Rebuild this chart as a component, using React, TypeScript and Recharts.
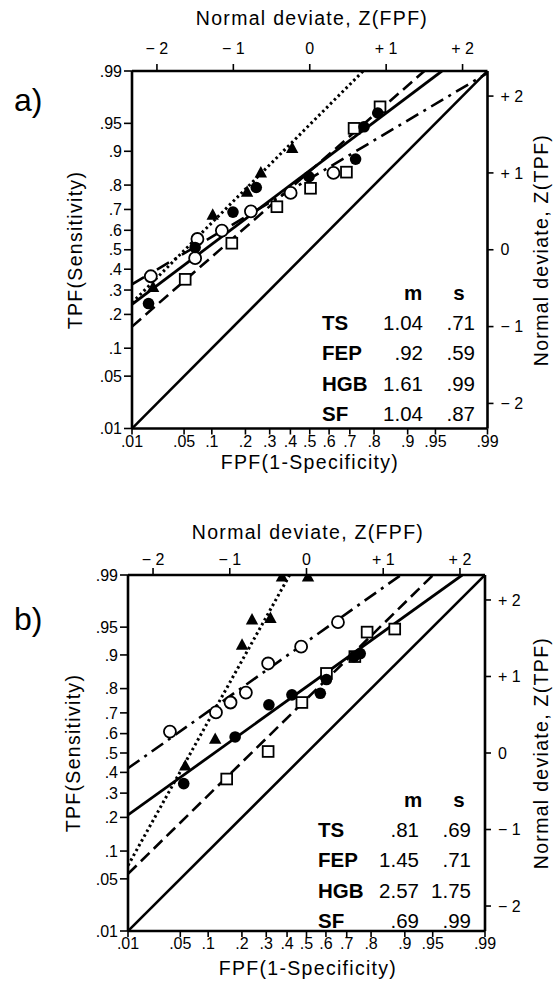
import React from 'react';
import { ComposedChart, XAxis, YAxis, Scatter } from 'recharts';

// ---------- axis ticks ----------
const probTicks = [0.01, 0.05, 0.1, 0.2, 0.3, 0.4, 0.5, 0.6, 0.7, 0.8, 0.9, 0.95, 0.99];
const probLabels = ['.01', '.05', '.1', '.2', '.3', '.4', '.5', '.6', '.7', '.8', '.9', '.95', '.99'];
const zTicks = [-2, -1, 0, 1, 2];
const zLabels = ['\u2212 2', '\u2212 1', '0', '+ 1', '+ 2'];

// ---------- panel a (normal deviate coordinates: [zFPF, zTPF]) ----------
const a_TS: [number, number][] = [[-2.11, -0.70], [-1.50, 0.03], [-1.005, 0.49], [-0.70, 0.81], [-0.01, 0.95], [0.60, 1.18], [0.71, 1.60], [0.89, 1.78]];
const a_FEP: [number, number][] = [[-2.08, -0.345], [-1.47, 0.14], [-1.50, -0.11], [-1.15, 0.25], [-0.77, 0.50], [-0.25, 0.74], [0.31, 1.0]];
const a_HGB: [number, number][] = [[-2.05, -0.49], [-1.27, 0.45], [-0.82, 0.75], [-0.64, 1.0], [-0.23, 1.32]];
const a_SF: [number, number][] = [[-1.63, -0.385], [-1.02, 0.085], [-0.43, 0.56], [0.01, 0.80], [0.48, 1.01], [0.58, 1.58], [0.92, 1.86]];
const a_lineTS: [number, number][] = [[-2.326, -0.71], [1.73, 2.326]];
const a_lineFEP: [number, number][] = [[-2.326, -0.45], [2.326, 2.30]];
const a_lineHGB: [number, number][] = [[-2.326, -0.69], [0.70, 2.326]];
const a_lineSF: [number, number][] = [[-2.326, -1.0], [1.50, 2.326]];
const a_table = { names: ['TS', 'FEP', 'HGB', 'SF'], m: ['1.04', '.92', '1.61', '1.04'], s: ['.71', '.59', '.99', '.87'] };

// ---------- panel b ----------
const b_TS: [number, number][] = [[-1.60, -0.40], [-0.93, 0.21], [-0.49, 0.63], [-0.19, 0.76], [0.18, 0.78], [0.26, 0.96], [0.62, 1.26], [0.70, 1.30]];
const b_FEP: [number, number][] = [[-1.78, 0.28], [-1.18, 0.53], [-0.99, 0.66], [-0.79, 0.79], [-0.50, 1.17], [-0.07, 1.39], [0.41, 1.71]];
const b_HGB: [number, number][] = [[-1.58, -0.17], [-1.19, 0.18], [-0.84, 1.41], [-0.71, 1.74], [-0.47, 1.76], [-0.32, 2.30], [0.02, 2.30]];
const b_SF: [number, number][] = [[-1.04, -0.34], [-0.50, 0.02], [-0.06, 0.66], [0.26, 1.04], [0.63, 1.26], [0.79, 1.58], [1.15, 1.62]];
const b_lineTS: [number, number][] = [[-2.326, -0.81], [2.03, 2.326]];
const b_lineFEP: [number, number][] = [[-2.326, -0.20], [1.23, 2.326]];
const b_lineHGB: [number, number][] = [[-2.326, -1.47], [-0.22, 2.326]];
const b_lineSF: [number, number][] = [[-2.326, -1.58], [1.65, 2.326]];
const b_table = { names: ['TS', 'FEP', 'HGB', 'SF'], m: ['.81', '1.45', '2.57', '.69'], s: ['.69', '.71', '1.75', '.99'] };

const chanceLine: [number, number][] = [[-2.326, -2.326], [2.326, 2.326]];

// inverse standard normal CDF (axis transform)
function probit(p: number): number {
  const a = [-3.969683028665376e1, 2.209460984245205e2, -2.759285104469687e2, 1.38357751867269e2, -3.066479806614716e1, 2.506628277459239];
  const b = [-5.447609879822406e1, 1.615858368580409e2, -1.556989798598866e2, 6.680131188771972e1, -1.328068155288572e1];
  const c = [-7.784894002430293e-3, -3.223964580411365e-1, -2.400758277161838, -2.549732539343734, 4.374664141464968, 2.938163982698783];
  const d = [7.784695709041462e-3, 3.224671290700398e-1, 2.445134137142996, 3.754408661907416];
  const pl = 0.02425;
  let q: number, r: number;
  if (p < pl) {
    q = Math.sqrt(-2 * Math.log(p));
    return (((((c[0] * q + c[1]) * q + c[2]) * q + c[3]) * q + c[4]) * q + c[5]) / ((((d[0] * q + d[1]) * q + d[2]) * q + d[3]) * q + 1);
  }
  if (p <= 1 - pl) {
    q = p - 0.5;
    r = q * q;
    return ((((((a[0] * r + a[1]) * r + a[2]) * r + a[3]) * r + a[4]) * r + a[5]) * q) / (((((b[0] * r + b[1]) * r + b[2]) * r + b[3]) * r + b[4]) * r + 1);
  }
  q = Math.sqrt(-2 * Math.log(1 - p));
  return -(((((c[0] * q + c[1]) * q + c[2]) * q + c[3]) * q + c[4]) * q + c[5]) / ((((d[0] * q + d[1]) * q + d[2]) * q + d[3]) * q + 1);
}

const Z99 = probit(0.99);
const probZ = probTicks.map(probit);
const FONT = '"Liberation Sans", Arial, Helvetica, sans-serif';

const toXY = (arr: [number, number][]) => arr.map(([x, y]) => ({ x, y }));

const FilledCircle = (p: any) => <circle cx={p.cx} cy={p.cy} r={5.8} fill="#000" />;
const OpenCircle = (p: any) => <circle cx={p.cx} cy={p.cy} r={6} fill="#fff" stroke="#000" strokeWidth={1.8} />;
const OpenSquare = (p: any) => <rect x={p.cx - 5.4} y={p.cy - 5.4} width={10.8} height={10.8} fill="#fff" stroke="#000" strokeWidth={1.8} />;
const FilledTri = (p: any) => (
  <polygon points={`${p.cx},${p.cy - 6.8} ${p.cx + 6.2},${p.cy + 4.6} ${p.cx - 6.2},${p.cy + 4.6}`} fill="#000" />
);
const NoShape = () => <g />;

const axisLine = { stroke: '#000', strokeWidth: 2.6 };
const tickLine = { stroke: '#000', strokeWidth: 1.6 };
const tickStyle = { fill: '#000', fontSize: 16, fontFamily: FONT };

type PanelProps = {
  height: number;
  margin: { top: number; right: number; bottom: number; left: number };
  topTickMargin: number;
  TS: [number, number][];
  FEP: [number, number][];
  HGB: [number, number][];
  SF: [number, number][];
  lTS: [number, number][];
  lFEP: [number, number][];
  lHGB: [number, number][];
  lSF: [number, number][];
};

function Panel(props: PanelProps) {
  const { height, margin, topTickMargin } = props;
  const lineSeries = [
    { d: chanceLine, st: { stroke: '#000', strokeWidth: 2.6 } },
    { d: props.lTS, st: { stroke: '#000', strokeWidth: 2.8 } },
    { d: props.lFEP, st: { stroke: '#000', strokeWidth: 2.6, strokeDasharray: '14 6 3 6' } },
    { d: props.lHGB, st: { stroke: '#000', strokeWidth: 3, strokeDasharray: '2.5 3' } },
    { d: props.lSF, st: { stroke: '#000', strokeWidth: 2.6, strokeDasharray: '12 6' } },
  ];
  return (
    <ComposedChart width={558} height={height} margin={margin}>
      <XAxis
        xAxisId="b"
        type="number"
        dataKey="x"
        orientation="bottom"
        domain={[-Z99, Z99]}
        allowDataOverflow
        ticks={probZ}
        interval={0}
        tickFormatter={(_v: any, i: number) => probLabels[i]}
        height={30}
        tickSize={6}
        tickMargin={1}
        axisLine={axisLine}
        tickLine={tickLine}
        tick={tickStyle}
      />
      <XAxis
        xAxisId="t"
        type="number"
        dataKey="x"
        orientation="top"
        domain={[-Z99, Z99]}
        allowDataOverflow
        ticks={zTicks}
        interval={0}
        tickFormatter={(_v: any, i: number) => zLabels[i]}
        height={30}
        tickSize={7}
        tickMargin={topTickMargin}
        axisLine={axisLine}
        tickLine={tickLine}
        tick={tickStyle}
      />
      <YAxis
        yAxisId="l"
        type="number"
        dataKey="y"
        orientation="left"
        domain={[-Z99, Z99]}
        allowDataOverflow
        ticks={probZ}
        interval={0}
        tickFormatter={(_v: any, i: number) => probLabels[i]}
        width={40}
        tickSize={8}
        tickMargin={2}
        axisLine={axisLine}
        tickLine={tickLine}
        tick={tickStyle}
      />
      <YAxis
        yAxisId="r"
        type="number"
        dataKey="y"
        orientation="right"
        domain={[-Z99, Z99]}
        allowDataOverflow
        ticks={zTicks}
        interval={0}
        tickFormatter={(_v: any, i: number) => zLabels[i]}
        width={40}
        tickSize={6}
        tickMargin={7}
        axisLine={axisLine}
        tickLine={tickLine}
        tick={tickStyle}
      />
      {/* the deviate axes carry the chance diagonal (invisible marks) so they get their scale */}
      <Scatter xAxisId="t" yAxisId="r" data={toXY(chanceLine)} shape={NoShape} isAnimationActive={false} />
      {lineSeries.map((s, i) => (
        <Scatter
          key={'l' + i}
          xAxisId="b"
          yAxisId="l"
          data={toXY(s.d)}
          shape={NoShape}
          line={{ ...s.st, fill: 'none' }}
          lineJointType="linear"
          isAnimationActive={false}
        />
      ))}
      <Scatter xAxisId="b" yAxisId="l" data={toXY(props.SF)} shape={OpenSquare} isAnimationActive={false} />
      <Scatter xAxisId="b" yAxisId="l" data={toXY(props.FEP)} shape={OpenCircle} isAnimationActive={false} />
      <Scatter xAxisId="b" yAxisId="l" data={toXY(props.TS)} shape={FilledCircle} isAnimationActive={false} />
      <Scatter xAxisId="b" yAxisId="l" data={toXY(props.HGB)} shape={FilledTri} isAnimationActive={false} />
    </ComposedChart>
  );
}

function Table({ t, x0, xm, xs, xmh, xsh, y0 }: { t: typeof a_table; x0: number; xm: number; xs: number; xmh: number; xsh: number; y0: number }) {
  return (
    <g fontFamily={FONT} fontSize={20.5} fill="#000">
      <text x={xmh} y={y0} textAnchor="middle" fontWeight="bold">m</text>
      <text x={xsh} y={y0} textAnchor="middle" fontWeight="bold">s</text>
      {t.names.map((n, i) => (
        <g key={n}>
          <text x={x0} y={y0 + 30 + i * 30.3} fontWeight="bold">{n}</text>
          <text x={xm} y={y0 + 30 + i * 30.3} textAnchor="end">{t.m[i]}</text>
          <text x={xs} y={y0 + 30 + i * 30.3} textAnchor="end">{t.s[i]}</text>
        </g>
      ))}
    </g>
  );
}

export default function App() {
  const titleStyle = { fontFamily: FONT, fontSize: 19.5, letterSpacing: 1.3, fill: '#000' } as any;
  return (
    <div style={{ position: 'absolute', left: 0, top: 0, width: 558, height: 992, background: '#fff', overflow: 'hidden' }}>
      <div style={{ position: 'absolute', left: 0, top: 0 }}>
        <Panel
          height={490}
          margin={{ top: 41, right: 30.5, bottom: 31.5, left: 92 }}
          topTickMargin={10}
          TS={a_TS}
          FEP={a_FEP}
          HGB={a_HGB}
          SF={a_SF}
          lTS={a_lineTS}
          lFEP={a_lineFEP}
          lHGB={a_lineHGB}
          lSF={a_lineSF}
        />
      </div>
      <div style={{ position: 'absolute', left: 0, top: 500 }}>
        <Panel
          height={492}
          margin={{ top: 45, right: 33, bottom: 31, left: 88 }}
          topTickMargin={3.5}
          TS={b_TS}
          FEP={b_FEP}
          HGB={b_HGB}
          SF={b_SF}
          lTS={b_lineTS}
          lFEP={b_lineFEP}
          lHGB={b_lineHGB}
          lSF={b_lineSF}
        />
      </div>
      <svg width={558} height={992} style={{ position: 'absolute', left: 0, top: 0, pointerEvents: 'none' }}>
        {/* panel a texts */}
        <text x={312} y={25} textAnchor="middle" {...titleStyle}>Normal deviate, Z(FPF)</text>
        <text x={14} y={111} fontFamily={FONT} fontSize={32} fill="#000">a)</text>
        <text x={82} y={250} textAnchor="middle" transform="rotate(-90 82 250)" {...titleStyle}>TPF(Sensitivity)</text>
        <text x={548} y={250} textAnchor="middle" transform="rotate(-90 548 250)" {...titleStyle}>Normal deviate, Z(TPF)</text>
        <text x={310} y={469} textAnchor="middle" {...titleStyle}>FPF(1-Specificity)</text>
        <Table t={a_table} x0={322} xm={423} xs={475} xmh={413} xsh={459} y0={300} />
        {/* panel b texts */}
        <text x={308} y={539} textAnchor="middle" {...titleStyle}>Normal deviate, Z(FPF)</text>
        <text x={14} y={630} fontFamily={FONT} fontSize={32} fill="#000">b)</text>
        <text x={80} y={753} textAnchor="middle" transform="rotate(-90 80 753)" {...titleStyle}>TPF(Sensitivity)</text>
        <text x={548} y={753} textAnchor="middle" transform="rotate(-90 548 753)" {...titleStyle}>Normal deviate, Z(TPF)</text>
        <text x={308} y={975} textAnchor="middle" {...titleStyle}>FPF(1-Specificity)</text>
        <Table t={b_table} x0={318} xm={419} xs={471} xmh={413} xsh={459} y0={807} />
      </svg>
    </div>
  );
}
